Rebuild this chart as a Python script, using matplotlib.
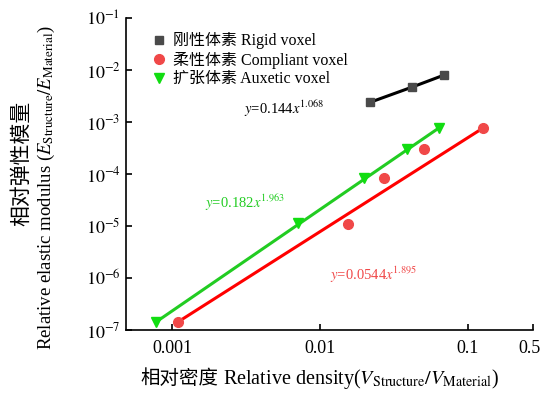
import numpy as np
import matplotlib
matplotlib.use("Agg")
import matplotlib.pyplot as plt
import matplotlib.transforms as mtransforms

plt.rcParams["font.family"] = ["Liberation Serif", "Noto Sans CJK SC"]
plt.rcParams["mathtext.fontset"] = "stix"

# datos
rigid_x = [0.0218, 0.0421, 0.0692]
rigid_y = [0.00239, 0.00471, 0.00802]

comp_x = [0.00109, 0.01545, 0.0270, 0.0507, 0.1256]
comp_y = [1.41e-7, 1.09e-5, 8.26e-5, 2.99e-4, 7.57e-4]

aux_x = [0.000776, 0.00706, 0.0199, 0.0389, 0.0640]
aux_y = [1.41e-7, 1.13e-5, 8.26e-5, 2.99e-4, 7.77e-4]

x_ticks = [0.001, 0.01, 0.1, 0.275]
x_labels = ["0.001", "0.01", "0.1", "0.5"]
y_ticks = [1e-7, 1e-6, 1e-5, 1e-4, 1e-3, 1e-2, 1e-1]
y_labels = [r"$10^{-%d}$" % k for k in range(7, 0, -1)]

fig = plt.figure(figsize=(5.42, 3.97), dpi=100)
ax = fig.add_axes([0.2325, 0.1688, 0.7509, 0.7859])

# líneas de ajuste
ax.plot(rigid_x, rigid_y, "-", color="black", lw=2.2, zorder=2)
ax.plot([comp_x[0], comp_x[-1]], [comp_y[0], comp_y[-1]], "-", color="#ff0000", lw=2.2, zorder=2)
ax.plot([aux_x[0], aux_x[-1]], [aux_y[0], aux_y[-1]], "-", color="#22cc22", lw=2.2, zorder=2)

# puntos
ax.plot(rigid_x, rigid_y, "s", color="#4a4a4a", ms=6, ls="none", zorder=3,
        label="刚性体素 Rigid voxel")
ax.plot(comp_x, comp_y, "o", color="#f04848", ms=7, ls="none", zorder=3,
        label="柔性体素 Compliant voxel")
ax.plot(aux_x, aux_y, "v", color="#11dd11", ms=7, ls="none", zorder=3,
        label="扩张体素 Auxetic voxel")

ax.set_xscale("log")
ax.set_yscale("log")
ax.set_xlim(0.000489, 0.275)
ax.set_ylim(1e-7, 1e-1)
ax.set_xticks(x_ticks)
ax.set_xticklabels(x_labels)
ax.set_yticks(y_ticks)
ax.set_yticklabels(y_labels)
ax.minorticks_off()
ax.tick_params(direction="in", length=4, width=1.2)
ax.tick_params(axis="x", labelsize=13, pad=7)
ax.tick_params(axis="y", labelsize=13, pad=4)

# el último rótulo "0.5" se corre un poco a la izquierda para no cortarse
ultimo = ax.get_xticklabels()[-1]
ultimo.set_transform(ultimo.get_transform() +
                     mtransforms.ScaledTranslation(-4 / 100, 0, fig.dpi_scale_trans))

ax.spines["top"].set_visible(False)
ax.spines["right"].set_visible(False)
ax.spines["left"].set_linewidth(1.2)
ax.spines["bottom"].set_linewidth(1.2)

# etiqueta x en dos partes (el chino fuera de mathtext)
t1 = fig.text(140 / 542, 1 - 379 / 397, "相对密度", fontsize=14, va="center", ha="left")
ax.annotate(r" Relative density($V_{\mathrm{Structure}}/V_{\mathrm{Material}}$)",
            xy=(1, 0.5), xycoords=t1, va="center", ha="left", fontsize=14.5,
            annotation_clip=False)

# etiqueta y en dos líneas separadas
fig.text(22 / 542, 1 - 163 / 397, "相对弹性模量", fontsize=15, rotation=90,
         va="center", ha="center")
fig.text(46 / 542, 1 - 187 / 397,
         r"Relative elastic modulus ($E_{\mathrm{Structure}}/E_{\mathrm{Material}}$)",
         fontsize=13.5, rotation=90, va="center", ha="center")

ax.text(0.29, 0.71, r"$y$=0.144$x^{1.068}$", transform=ax.transAxes, fontsize=10.5,
        color="black", va="center")
ax.text(0.194, 0.407, r"$y$=0.182$x^{1.963}$", transform=ax.transAxes, fontsize=10.5,
        color="#22cc22", va="center")
ax.text(0.50, 0.176, r"$y$=0.0544$x^{1.895}$", transform=ax.transAxes, fontsize=10.5,
        color="#f04848", va="center")

ax.legend(loc="upper left", bbox_to_anchor=(0.03, 0.99), frameon=False, fontsize=11.5,
          handletextpad=0.3, labelspacing=0.15, handlelength=1.2, borderpad=0.2)

fig.savefig("out.png", dpi=100)
